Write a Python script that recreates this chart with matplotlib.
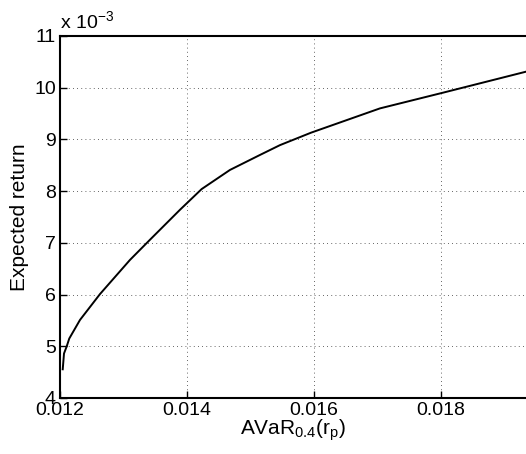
import matplotlib
matplotlib.use("Agg")
import matplotlib.pyplot as plt
from matplotlib.ticker import FuncFormatter

plt.rcParams['font.family'] = ['Liberation Sans', 'DejaVu Sans']
plt.rcParams['mathtext.fontset'] = 'custom'
plt.rcParams['mathtext.rm'] = 'Liberation Sans'
plt.rcParams['mathtext.it'] = 'Liberation Sans'

# efficient frontier
avar = [0.012043, 0.012063, 0.012106, 0.012146, 0.012315, 0.01263, 0.013102,
        0.013417, 0.01389, 0.014231, 0.014677, 0.01515, 0.015465, 0.015953,
        0.017039, 0.018036, 0.01934]
exp_ret = [0.004555, 0.00486, 0.0050, 0.00515, 0.00551, 0.00601, 0.00667,
           0.00706, 0.00764, 0.00804, 0.00841, 0.00870, 0.00889, 0.00913,
           0.00960, 0.009905, 0.010310]

xticks = [0.012, 0.014, 0.016, 0.018]
yticks = [0.004, 0.005, 0.006, 0.007, 0.008, 0.009, 0.010, 0.011]

fig = plt.figure(figsize=(5.26, 4.54), dpi=100)
ax = fig.add_axes([60 / 526, 56 / 454, 1 - 60 / 526, 362 / 454])

ax.plot(avar, exp_ret, color='black', linewidth=1.4)

ax.set_xlim(0.012, 0.01934)
ax.set_ylim(0.004, 0.011)
ax.set_xticks(xticks)
ax.set_yticks(yticks)
ax.xaxis.set_major_formatter(FuncFormatter(lambda v, p: '%.3f' % v))
ax.yaxis.set_major_formatter(FuncFormatter(lambda v, p: '%d' % round(v * 1000)))

ax.grid(True, linestyle=(0, (1, 4)), color='black', linewidth=0.6, alpha=0.8)
ax.tick_params(direction='in', length=5, width=1, labelsize=14, pad=3,
               top=False, right=False)
for s in ['left', 'bottom', 'top']:
    ax.spines[s].set_linewidth(1.5)
ax.spines['right'].set_visible(False)

ax.text(0.0, 1.01, r'x 10$^{-3}$', transform=ax.transAxes, fontsize=14,
        ha='left', va='bottom')

ax.set_xlabel(r'AVaR$_{0.4}$(r$_{\mathrm{p}}$)', fontsize=15, labelpad=-1)
ax.set_ylabel('Expected return', fontsize=15, labelpad=4)

fig.savefig('out.png', dpi=100)
